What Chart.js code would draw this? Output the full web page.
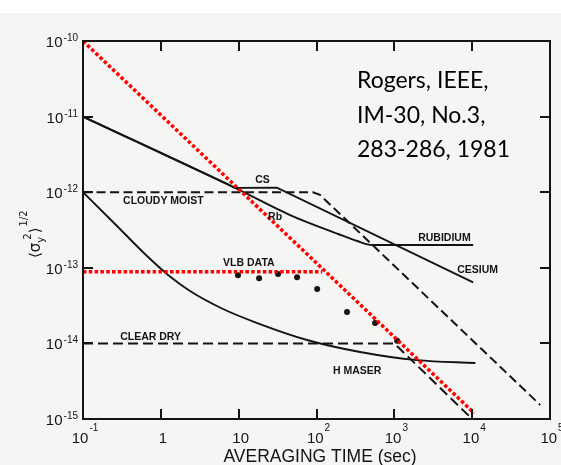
<!DOCTYPE html>
<html>
<head>
<meta charset="utf-8">
<script src="https://cdn.jsdelivr.net/npm/chart.js@4.4.1/dist/chart.umd.min.js"></script>
<style>
  html, body { margin: 0; padding: 0; background: #fff; }
  #wrap { width: 561px; height: 465px; }
</style>
</head>
<body>
<div id="wrap"><canvas id="allan" width="561" height="465"></canvas></div>
<script>
// axis decades
const xTicks = [0.1, 1, 10, 100, 1000, 1e4, 1e5];
const xTickLabels = ['10^-1', '1', '10', '10^2', '10^3', '10^4', '10^5'];
const yTicks = [1e-15, 1e-14, 1e-13, 1e-12, 1e-11, 1e-10];
const yTickLabels = ['10^-15', '10^-14', '10^-13', '10^-12', '10^-11', '10^-10'];

// curves (tau in sec, sigma)
const cesiumTau = [0.1, 9, 31, 1.03e4];
const cesiumSigma = [1e-11, 1.14e-12, 1.15e-12, 6.4e-14];

const rubidiumTau = [0.1, 9, 45.8, 190, 333, 519, 1.03e4];
const rubidiumSigma = [1e-11, 1.14e-12, 4.99e-13, 2.8e-13, 2.26e-13, 2.0e-13, 2.0e-13];

const maserTau = [0.1, 0.243, 0.665, 1.24, 2.37, 6.3, 17.3, 75.7, 363, 1963, 1.1e4];
const maserSigma = [1e-12, 4.04e-13, 1.43e-13, 8.03e-14, 4.93e-14, 2.85e-14, 1.86e-14, 1.11e-14, 7.7e-15, 6.0e-15, 5.5e-15];

const cloudyTau = [0.1, 90, 111, 7.5e4];
const cloudySigma = [1e-12, 1e-12, 9.2e-13, 1.53e-15];

const clearTau = [0.1, 1000, 1e4];
const clearSigma = [1e-14, 1e-14, 1e-15];

const vlbTau = [9.8, 18.3, 32.1, 56.3, 102, 247, 566, 1086];
const vlbSigma = [8.0e-14, 7.3e-14, 8.3e-14, 7.5e-14, 5.25e-14, 2.6e-14, 1.86e-14, 1.08e-14];

// red overlay
const redDiagTau = [0.1, 1.06e4];
const redDiagSigma = [1e-10, 1.2e-15];
const redFlatTau = [0.1, 118];
const redFlatSigma = [8.9e-14, 8.9e-14];

const ink = '#141414';

function pts(tau, sigma) {
  return tau.map((t, i) => ({ x: t, y: sigma[i] }));
}

// curve names written on the plot, anchored in data space (left, baseline)
const curveNames = [
  { text: 'CS', x: 16.3, y: 1.32e-12 },
  { text: 'CLOUDY MOIST', x: 0.327, y: 6.98e-13 },
  { text: 'Rb', x: 23.9, y: 4.28e-13 },
  { text: 'VLB DATA', x: 6.31, y: 1.06e-13 },
  { text: 'RUBIDIUM', x: 2023, y: 2.26e-13 },
  { text: 'CESIUM', x: 6412, y: 8.53e-14 },
  { text: 'CLEAR DRY', x: 0.30, y: 1.11e-14 },
  { text: 'H MASER', x: 163, y: 3.94e-15 }
];

function drawPower(ctx, label, px, baseY, expY, align) {
  const parts = label.split('^');
  ctx.font = '15px "Liberation Sans"';
  const wb = ctx.measureText(parts[0]).width;
  let we = 0;
  if (parts[1]) {
    ctx.font = '10px "Liberation Sans"';
    we = ctx.measureText(parts[1]).width + 1;
  }
  let left = align == 'right' ? px - wb - we : px - (wb + we) / 2;
  ctx.textAlign = 'left';
  ctx.font = '15px "Liberation Sans"';
  ctx.fillText(parts[0], left, baseY);
  if (parts[1]) {
    ctx.font = '10px "Liberation Sans"';
    ctx.fillText(parts[1], left + wb + 1, expY);
  }
}

const paperPlugin = {
  id: 'paper',
  beforeDraw(chart) {
    const ctx = chart.ctx;
    ctx.save();
    ctx.fillStyle = '#ffffff';
    ctx.fillRect(0, 0, chart.width, chart.height);
    ctx.fillStyle = '#f5f5f4';
    ctx.fillRect(0, 13, chart.width, chart.height - 13);
    ctx.restore();
  },
  afterDraw(chart) {
    const { ctx, chartArea: a, scales } = chart;
    const x = scales.x, y = scales.y;
    ctx.save();
    ctx.strokeStyle = ink;
    ctx.fillStyle = ink;
    ctx.lineWidth = 2;
    ctx.strokeRect(a.left, a.top, a.right - a.left, a.bottom - a.top);

    // inward tick marks on all four sides
    const tl = 10;
    ctx.beginPath();
    xTicks.forEach(v => {
      const px = Math.round(x.getPixelForValue(v));
      ctx.moveTo(px, a.bottom); ctx.lineTo(px, a.bottom - tl);
      ctx.moveTo(px, a.top); ctx.lineTo(px, a.top + tl);
    });
    yTicks.forEach(v => {
      const py = Math.round(y.getPixelForValue(v));
      ctx.moveTo(a.left, py); ctx.lineTo(a.left + tl, py);
      ctx.moveTo(a.right, py); ctx.lineTo(a.right - tl, py);
    });
    ctx.stroke();

    ctx.textBaseline = 'alphabetic';
    xTicks.forEach((v, i) => {
      const px = x.getPixelForValue(v);
      drawPower(ctx, xTickLabels[i], px + 2, a.bottom + 24, a.bottom + 12, 'center');
    });
    yTicks.forEach((v, i) => {
      const py = y.getPixelForValue(v);
      drawPower(ctx, yTickLabels[i], a.left - 5, py + 6, py, 'right');
    });

    // curve names
    ctx.font = 'bold 10.5px "Liberation Sans"';
    ctx.textAlign = 'left';
    curveNames.forEach(n => {
      ctx.fillText(n.text, x.getPixelForValue(n.x), y.getPixelForValue(n.y));
    });

    // x title
    ctx.font = '17.5px "Liberation Sans"';
    ctx.textAlign = 'center';
    ctx.fillText('AVERAGING TIME (sec)', 320, 462);

    // y title  <sigma_y^2>^(1/2), rotated
    ctx.save();
    ctx.translate(40, 258);
    ctx.rotate(-Math.PI / 2);
    ctx.textAlign = 'left';
    let cx = 0;
    const part = (t, size, dy) => {
      ctx.font = size + 'px "DejaVu Sans"';
      ctx.fillText(t, cx, dy);
      cx += ctx.measureText(t).width;
    };
    part('\u27E8', 15, 0);
    part('\u03C3', 15, 0);
    const subX = cx;
    part('y', 10, 4);
    cx = subX + 3;
    part('2', 10, -9);
    part('\u27E9', 15, 0);
    cx += 1;
    part('1/2', 10, -13);
    ctx.restore();

    // citation
    ctx.font = '23px Lato';
    ctx.textAlign = 'left';
    ctx.fillStyle = '#000';
    ctx.fillText('Rogers, IEEE,', 357, 88);
    ctx.fillText('IM-30, No.3,', 357, 123);
    ctx.fillText('283-286, 1981', 357, 157);
    ctx.restore();
  }
};

const solid = { borderColor: ink, borderWidth: 1.9, pointRadius: 0, fill: false };
const dashed = { borderColor: ink, borderWidth: 2, borderDash: [9, 4.5], pointRadius: 0, fill: false };
const redDots = { borderColor: '#ff0000', borderWidth: 3.5, borderDash: [3.5, 2.3], pointRadius: 0, fill: false };

const ctx = document.getElementById('allan').getContext('2d');
const chart = new Chart(ctx, {
  type: 'line',
  data: {
    datasets: [
      Object.assign({ label: 'red diagonal', data: pts(redDiagTau, redDiagSigma) }, redDots),
      Object.assign({ label: 'red flat', data: pts(redFlatTau, redFlatSigma) }, redDots),
      { label: 'VLB data', data: pts(vlbTau, vlbSigma), showLine: false,
        pointRadius: 3, pointBackgroundColor: ink, pointBorderWidth: 0 },
      Object.assign({ label: 'Cesium', data: pts(cesiumTau, cesiumSigma) }, solid),
      Object.assign({ label: 'Rubidium', data: pts(rubidiumTau, rubidiumSigma), cubicInterpolationMode: 'monotone' }, solid),
      Object.assign({ label: 'H maser', data: pts(maserTau, maserSigma), cubicInterpolationMode: 'monotone' }, solid),
      Object.assign({ label: 'Cloudy moist', data: pts(cloudyTau, cloudySigma) }, dashed),
      Object.assign({ label: 'Clear dry', data: pts(clearTau, clearSigma) }, dashed, { borderDash: [10, 5] })
    ]
  },
  options: {
    responsive: false,
    animation: false,
    devicePixelRatio: 1,
    layout: { padding: { left: 0, right: 11, top: 41, bottom: 0 }, autoPadding: false },
    plugins: { legend: { display: false }, tooltip: { enabled: false } },
    scales: {
      x: {
        type: 'logarithmic', min: 0.1, max: 1e5,
        afterBuildTicks: s => { s.ticks = xTicks.map(v => ({ value: v })); },
        afterFit: s => { s.height = 46; },
        ticks: { display: false },
        grid: { display: false },
        border: { display: false }
      },
      y: {
        type: 'logarithmic', min: 1e-15, max: 1e-10,
        afterBuildTicks: s => { s.ticks = yTicks.map(v => ({ value: v })); },
        afterFit: s => { s.width = 83; },
        ticks: { display: false },
        grid: { display: false },
        border: { display: false }
      }
    }
  },
  plugins: [paperPlugin]
});
</script>
</body>
</html>
